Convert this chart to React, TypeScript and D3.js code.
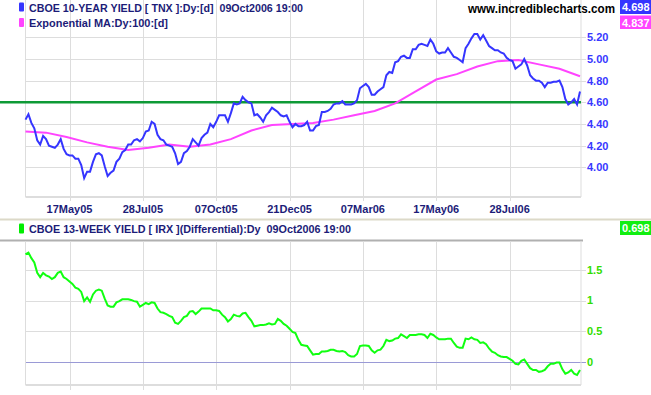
import React from 'react';
import * as d3 from 'd3';

// trading-day index spacing of the sampled series
const STEP = 2;
const EMA_STEP = 14;
const LAST_DAY = 378;

// CBOE 10-year yield (TNX), every 2nd trading day
const tnx = [
  4.44, 4.49, 4.41, 4.36, 4.25, 4.21, 4.29, 4.26, 4.20, 4.19,
  4.18, 4.21, 4.26, 4.17, 4.12, 4.11, 4.11, 4.08, 4.08, 4.02,
  3.90, 3.96, 3.96, 4.05, 4.12, 4.13, 4.11, 4.01, 3.92, 3.95,
  3.97, 4.05, 4.08, 4.14, 4.16, 4.21, 4.21, 4.25, 4.26, 4.24,
  4.27, 4.33, 4.34, 4.42, 4.40, 4.30, 4.26, 4.25, 4.21, 4.20,
  4.19, 4.13, 4.03, 4.05, 4.13, 4.15, 4.19, 4.26, 4.23, 4.20,
  4.27, 4.30, 4.32,
  4.40, 4.37, 4.42, 4.48, 4.48, 4.48, 4.42, 4.50, 4.59, 4.58,
  4.59, 4.65, 4.62, 4.60, 4.59, 4.48, 4.49, 4.46, 4.42, 4.48,
  4.51, 4.55, 4.53, 4.51, 4.48, 4.47, 4.48, 4.42, 4.37, 4.40,
  4.38, 4.38, 4.39, 4.42, 4.34, 4.34, 4.38, 4.39, 4.51, 4.51,
  4.52, 4.54, 4.58, 4.59, 4.59, 4.61, 4.58, 4.58, 4.58, 4.59,
  4.62, 4.73, 4.75, 4.77, 4.74, 4.67, 4.67, 4.70, 4.72, 4.74,
  4.85, 4.88, 4.87,
  4.97, 4.98, 5.02, 5.03, 5.01, 5.01, 5.09, 5.09, 5.13, 5.14,
  5.13, 5.12, 5.18, 5.14, 5.07, 5.05, 5.06, 5.06, 5.10, 5.06,
  5.02, 5.01, 4.99, 4.97, 5.10, 5.14, 5.19, 5.23, 5.23, 5.18,
  5.22, 5.17, 5.12, 5.10, 5.08, 5.08, 5.06, 5.05, 5.01, 4.99,
  4.98, 4.91, 4.93, 4.95, 5.00, 4.94, 4.85, 4.82, 4.80, 4.80,
  4.78, 4.74, 4.78, 4.78, 4.79, 4.79, 4.80, 4.74, 4.63, 4.58,
  4.60, 4.63, 4.58, 4.70,
];

// exponential MA 100, every 14th trading day
const ema = [
  4.33, 4.32, 4.28, 4.23, 4.19, 4.16, 4.18, 4.21, 4.19, 4.21,
  4.26, 4.34, 4.39, 4.40, 4.41, 4.44, 4.48, 4.52, 4.59, 4.70,
  4.81, 4.86, 4.93, 4.98, 4.99, 4.95, 4.91, 4.84,
];

// 10yr minus 13wk differential, every 2nd trading day
const irxDiff = [
  1.75, 1.78, 1.69, 1.62, 1.45, 1.38, 1.45, 1.41, 1.39, 1.35,
  1.38, 1.45, 1.47, 1.38, 1.35, 1.31, 1.27, 1.21, 1.19, 1.14,
  0.99, 1.05, 0.98, 1.10, 1.16, 1.18, 1.16, 1.03, 0.92, 0.90,
  0.90, 0.97, 0.99, 1.02, 1.02, 1.02, 1.01, 0.99, 0.98, 0.90,
  0.93, 0.96, 0.94, 0.97, 0.96, 0.87, 0.81, 0.80, 0.78, 0.75,
  0.73, 0.64, 0.62, 0.67, 0.73, 0.75, 0.82, 0.83, 0.78, 0.82,
  0.87, 0.87, 0.87, 0.87, 0.84, 0.84, 0.83, 0.77, 0.73, 0.66,
  0.70, 0.77, 0.75, 0.74, 0.79, 0.80, 0.73, 0.67, 0.58, 0.59,
  0.60, 0.60, 0.61, 0.63, 0.61, 0.62, 0.70, 0.67, 0.62, 0.59,
  0.54, 0.49, 0.47, 0.36, 0.28, 0.27, 0.26, 0.19, 0.12, 0.13,
  0.13, 0.17, 0.17, 0.18,
  0.20, 0.20, 0.18, 0.17, 0.18, 0.16, 0.11, 0.09, 0.09, 0.13,
  0.26, 0.27, 0.27, 0.26, 0.19, 0.15, 0.19, 0.20, 0.26, 0.36,
  0.34, 0.35, 0.38, 0.39, 0.45, 0.42, 0.39, 0.44, 0.44, 0.44,
  0.45, 0.45, 0.44, 0.39, 0.46, 0.44, 0.40, 0.37, 0.37, 0.37,
  0.38, 0.38, 0.31, 0.25, 0.23, 0.23, 0.38, 0.37, 0.40, 0.37,
  0.36, 0.31, 0.32, 0.29, 0.22, 0.17, 0.15, 0.11, 0.09, 0.08,
  0.08, 0.05, 0.02, -0.03, -0.04, 0.02, 0.04, -0.03, -0.10, -0.13,
  -0.13, -0.16, -0.15, -0.13, -0.07, -0.03, -0.03, -0.01, -0.01, -0.12,
  -0.19, -0.17, -0.13, -0.19, -0.21, -0.13,
];

const dateTicks = [30, 80, 130, 180, 230, 280, 330];
const dateLabels = ['17May05', '28Jul05', '07Oct05', '21Dec05', '07Mar06', '17May06', '28Jul06'];
const yieldTicks = [4.0, 4.2, 4.4, 4.6, 4.8, 5.0, 5.2];
const diffTicks = [0, 0.5, 1, 1.5];
const trendLevel = 4.6;

const FONT = 'Liberation Sans, Arial, sans-serif';
const GRID = '#dddddd';
const NAVY = '#1c1c78';

export default function App() {
  const left = 25.5, right = 581;
  const x = d3.scaleLinear().domain([0, LAST_DAY]).range([left, 580]);
  const yTop = d3.scaleLinear().domain([4.0, 5.2]).range([167.3, 37.3]);
  const yBot = d3.scaleLinear().domain([0, 1.5]).range([362, 269.8]);

  const tnxLine = d3.line<number>().x((d, i) => x(i * STEP)).y(d => yTop(d));
  const emaLine = d3.line<number>().x((d, i) => x(Math.min(i * EMA_STEP, LAST_DAY))).y(d => yTop(d));
  const diffLine = d3.line<number>().x((d, i) => x(i * STEP)).y(d => yBot(d));

  const topBottom = 197;
  const botTop = 240.5, botBottom = 385;

  return (
    <div style={{ position: 'absolute', left: 0, top: 0 }}>
      <svg width={651} height={395} style={{ display: 'block', background: '#fff' }} fontFamily={FONT}>
        {/* top panel grid */}
        {dateTicks.map(t => (
          <line key={'tv' + t} x1={Math.round(x(t)) + 0.5} x2={Math.round(x(t)) + 0.5} y1={0} y2={topBottom + 4} stroke={GRID} />
        ))}
        {yieldTicks.map(v => (
          <line key={'th' + v} x1={left} x2={586} y1={Math.round(yTop(v)) + 0.5} y2={Math.round(yTop(v)) + 0.5} stroke={GRID} />
        ))}
        <line x1={left} x2={left} y1={0} y2={topBottom} stroke={GRID} />
        <line x1={right} x2={right} y1={0} y2={topBottom} stroke={GRID} />
        <line x1={left} x2={right} y1={topBottom} y2={topBottom} stroke={GRID} strokeWidth={2} />

        <line x1={0} x2={right} y1={yTop(trendLevel)} y2={yTop(trendLevel)} stroke="#0e9a36" strokeWidth={2.5} />
        <path d={emaLine(ema) || ''} fill="none" stroke="#ff44ff" strokeWidth={2} />
        <path d={tnxLine(tnx) || ''} fill="none" stroke="#3535ff" strokeWidth={2} />

        {yieldTicks.map(v => (
          <text key={'tl' + v} x={587} y={yTop(v)} dy="0.36em" fontSize={11} fontWeight="bold" fill="#3838ff">
            {d3.format('.2f')(v)}
          </text>
        ))}

        {dateTicks.map((t, i) => (
          <text key={'xl' + t} x={x(t)} y={213} textAnchor="middle" fontSize={11} fontWeight="bold" fill={NAVY}>
            {dateLabels[i]}
          </text>
        ))}

        {/* top legend */}
        <rect x={19} y={2.5} width={5} height={9} rx={1} fill="#3535ff" />
        <text x={29} y={11.5} fontSize={11} fontWeight="bold" fill={NAVY} style={{ whiteSpace: 'pre' }}
          textLength={274} lengthAdjust="spacingAndGlyphs">
          {'CBOE 10-YEAR YIELD [ TNX ]:Dy:[d]  09Oct2006 19:00'}
        </text>
        <rect x={19} y={18} width={5} height={9} rx={1} fill="#ff44ff" />
        <text x={29} y={27} fontSize={11} fontWeight="bold" fill={NAVY} textLength={139} lengthAdjust="spacingAndGlyphs">
          Exponential MA:Dy:100:[d]
        </text>
        <text x={468} y={12.5} fontSize={12} fontWeight="bold" fill="#000" textLength={147} lengthAdjust="spacingAndGlyphs">
          www.incrediblecharts.com
        </text>
        <rect x={620} y={0} width={31} height={14} fill="#3535ff" />
        <text x={622} y={11} fontSize={11} fontWeight="bold" fill="#fff">{d3.format('.3f')(4.698)}</text>
        <rect x={620} y={15.5} width={31} height={13.5} fill="#ff44ff" />
        <text x={622} y={26.5} fontSize={11} fontWeight="bold" fill="#fff">{d3.format('.3f')(4.837)}</text>

        {/* separator */}
        <line x1={0} x2={651} y1={219.5} y2={219.5} stroke="#dcd9c8" strokeWidth={2} />

        {/* bottom panel */}
        <rect x={19} y={223.5} width={5} height={10} rx={1} fill="#00ee00" />
        <text x={29} y={233} fontSize={11} fontWeight="bold" fill={NAVY} style={{ whiteSpace: 'pre' }}
          textLength={322} lengthAdjust="spacingAndGlyphs">
          {'CBOE 13-WEEK YIELD [ IRX ](Differential):Dy  09Oct2006 19:00'}
        </text>
        <rect x={620} y={221} width={31} height={14} fill="#11ee11" />
        <text x={622} y={232} fontSize={11} fontWeight="bold" fill="#fff">{d3.format('.3f')(0.698)}</text>

        <line x1={0} x2={583} y1={botTop} y2={botTop} stroke="#b0b0b0" strokeWidth={2} />
        {dateTicks.map(t => (
          <line key={'bv' + t} x1={Math.round(x(t)) + 0.5} x2={Math.round(x(t)) + 0.5} y1={botTop + 1} y2={390} stroke={GRID} />
        ))}
        {diffTicks.map(v => (
          <line key={'bh' + v} x1={left} x2={586} y1={Math.round(yBot(v)) + 0.5} y2={Math.round(yBot(v)) + 0.5}
            stroke={v === 0 ? '#9a9ad6' : GRID} />
        ))}
        <line x1={left} x2={left} y1={botTop + 1} y2={botBottom} stroke={GRID} />
        <line x1={right} x2={right} y1={botTop + 1} y2={botBottom} stroke={GRID} />
        <line x1={left} x2={right} y1={botBottom} y2={botBottom} stroke={GRID} strokeWidth={2} />

        <path d={diffLine(irxDiff) || ''} fill="none" stroke="#11ff11" strokeWidth={2} />

        {diffTicks.map(v => (
          <text key={'bl' + v} x={587} y={yBot(v)} dy="0.36em" fontSize={11} fontWeight="bold" fill="#33dd00">
            {String(v)}
          </text>
        ))}
      </svg>
    </div>
  );
}
